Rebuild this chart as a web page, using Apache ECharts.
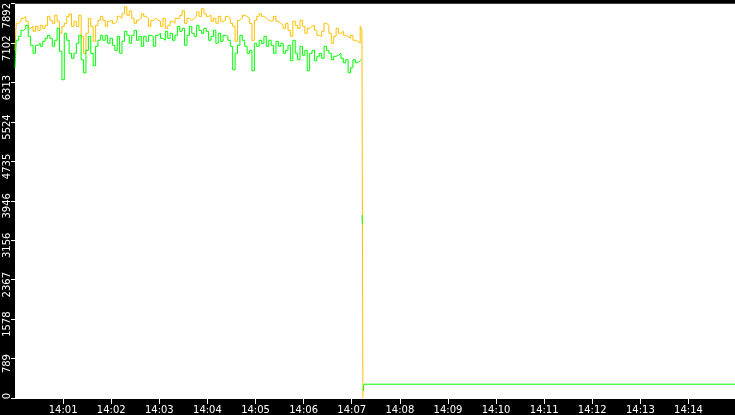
<!DOCTYPE html>
<html><head><meta charset="utf-8">
<script src="https://cdn.jsdelivr.net/npm/echarts@6/dist/echarts.min.js"></script>
<style>html,body{margin:0;padding:0;background:#000;overflow:hidden}#c{width:735px;height:415px;}</style>
</head><body><div id="c"></div>
<script>
// seconds after 14:00:00 between consecutive samples
const sampleStep = 3;
const yellowValues = [
6960,7500,7540,7600,7640,7540,7400,7440,7340,7440,7360,7460,7400,7460,7640,7560,7500,7660,7540,7300,7440,7500,7640,7690,7440,7540,7440,7660,7240,6900,7300,7600,7440,7140,7460,7560,7640,
7560,7440,7540,7560,7500,7540,7640,7600,7690,7830,7660,7750,7600,7500,7560,7600,7690,7640,7600,7440,7560,7600,7560,7540,7440,7600,7400,7460,7540,7500,7600,7600,7660,7750,7500,7600,7560,
7600,
7640,7730,7640,7790,7690,7640,7660,7540,7600,7500,7640,7540,7560,7640,7600,7500,7440,7140,7560,7600,7660,7640,7600,7500,7160,7560,7640,7690,7640,7600,7560,7540,7560,7640,7540,7500,7460,7400,
7500,7360,7240,7540,7460,7400,7560,7440,7300,7400,7440,7460,7360,7260,7240,7340,7500,7460,7300,7100,7240,7400,7300,7340,7260,7240,7200,7260,7160,7140,7100,7440
];
const greenValues = [
6610,7160,7240,7360,7400,7460,7240,7060,6900,7060,7100,7040,7140,7200,7260,7200,7040,7160,7400,6940,6370,7300,7160,6900,6800,6900,7100,7260,6770,6510,6960,7240,6900,6650,7040,7160,7260,
7160,7260,7100,7200,7060,6960,7240,6900,7140,7340,7260,7100,7260,7360,7160,7240,7040,7240,7140,7260,7240,7040,7260,7300,7200,7160,7340,7200,7300,7160,7260,7440,7340,7400,7060,7260,7440,
7300,
7240,7460,7360,7300,7400,7340,7160,7240,7360,7100,7300,7140,7260,7240,7160,7040,6570,6900,7060,7260,7160,7040,6900,6960,6550,7100,7040,7160,7100,7240,7040,7160,7060,6900,7140,7040,7100,6900,
6960,7060,6750,7160,6900,6770,7040,6860,6960,6550,6900,6960,6750,6840,6900,6800,7040,6960,6900,6770,6840,6860,6900,6800,6710,6770,6510,6610,6770,6710,6750,6770
];
// the drop after 14:07:12 (seconds after 14:00:00)
const yellowTailTimes = [433.4, 434.4];
const yellowTailValues = [7350, 0];
const greenTailTimes = [432.6, 433.1, 433.4, 434.0, 435.0, 435.3, 898];
const greenTailValues = [null, 3660, 3480, null, 140, 276, 276];

const xTickLabels = ['14:00','14:01','14:02','14:03','14:04','14:05','14:06','14:07','14:08','14:09','14:10','14:11','14:12','14:13','14:14'];
const yTickLabels = ['0','789','1578','2367','3156','3946','4735','5524','6313','7102','7892'];
const yMax = 7892;
const yStep = 789.2;

function buildSeries(values, tailTimes, tailValues) {
  const d = values.map((v, i) => [i * sampleStep, v]);
  tailTimes.forEach((t, i) => d.push([t, tailValues[i] === null ? '-' : tailValues[i]]));
  return d;
}

const chart = echarts.init(document.getElementById('c'), null, {renderer: 'canvas'});
chart.setOption({
  animation: false,
  backgroundColor: '#000',
  grid: {left: 15, top: 0, right: 0, height: 398, show: true, backgroundColor: '#fff', borderWidth: 0},
  xAxis: {
    type: 'value', min: 0, max: 898, interval: 60, offset: 1,
    axisLine: {show: true, lineStyle: {color: '#fff', width: 1}},
    axisTick: {show: true, length: 6, lineStyle: {color: '#fff'}},
    axisLabel: {
      color: '#fff', fontFamily: 'DejaVu Sans', fontSize: 10, margin: 6,
      showMinLabel: false, showMaxLabel: false,
      formatter: v => (Math.abs(v % 60) < 1e-6 ? (xTickLabels[Math.round(v / 60)] || '') : '')
    },
    splitLine: {show: false}
  },
  yAxis: {
    type: 'value', min: 0, max: yMax, interval: yStep,
    axisLine: {show: false},
    axisTick: {show: true, length: 4, lineStyle: {color: '#fff'}},
    axisLabel: {
      rotate: 90, color: '#fff', fontFamily: 'DejaVu Sans', fontSize: 10, margin: 3,
      showMinLabel: true, showMaxLabel: true,
      formatter: v => {
        const idx = Math.round(v / yStep);
        const s = yTickLabels[idx] || '';
        if (idx === 0) return '{z|' + s + '}';
        if (idx === yTickLabels.length - 1) return '{t|' + s + '}';
        return '{n|' + s + '}';
      },
      rich: {
        n: {color: '#fff', fontFamily: 'DejaVu Sans', fontSize: 10, padding: [0, 10, 0, 0]},
        z: {color: '#fff', fontFamily: 'DejaVu Sans', fontSize: 10, padding: [0, 0, 0, 4]},
        t: {color: '#fff', fontFamily: 'DejaVu Sans', fontSize: 10, padding: [0, 24, 0, 0]}
      }
    },
    splitLine: {show: false}
  },
  series: [
    {type: 'line', name: 'yellow', step: 'middle', data: buildSeries(yellowValues, yellowTailTimes, yellowTailValues),
     showSymbol: false, symbol: 'none', lineStyle: {color: '#ffc000', width: 1}, itemStyle: {color: '#ffc000'}, z: 2},
    {type: 'line', name: 'green', step: 'middle', data: buildSeries(greenValues, greenTailTimes, greenTailValues),
     showSymbol: false, symbol: 'none', lineStyle: {color: '#00ff00', width: 1}, itemStyle: {color: '#00ff00'}, z: 3, connectNulls: false}
  ]
});
</script></body></html>
